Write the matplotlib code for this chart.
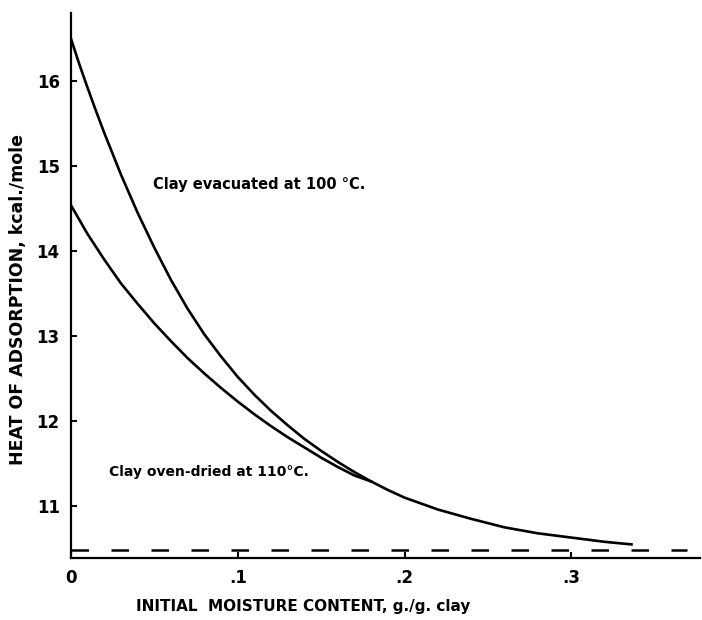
import numpy as np
import matplotlib.pyplot as plt

plt.rcParams['font.family'] = ['DejaVu Sans']
plt.rcParams['font.weight'] = 'bold'

# Daten
x_evac = [0.0, 0.005, 0.01, 0.015, 0.02, 0.03, 0.04, 0.05, 0.06, 0.07, 0.08, 0.09,
          0.10, 0.11, 0.12, 0.13, 0.14, 0.15, 0.16, 0.17, 0.18, 0.19, 0.20, 0.22,
          0.24, 0.26, 0.28, 0.30, 0.32, 0.336]
y_evac = [16.5, 16.2, 15.92, 15.65, 15.39, 14.9, 14.45, 14.04, 13.66, 13.32, 13.02, 12.76,
          12.52, 12.31, 12.12, 11.95, 11.79, 11.65, 11.52, 11.40, 11.29, 11.19, 11.10, 10.96,
          10.85, 10.75, 10.68, 10.63, 10.58, 10.55]

x_oven = [0.0, 0.01, 0.02, 0.03, 0.04, 0.05, 0.06, 0.07, 0.08, 0.09, 0.10, 0.11,
          0.12, 0.13, 0.14, 0.15, 0.16, 0.17, 0.18]
y_oven = [14.54, 14.2, 13.9, 13.62, 13.38, 13.15, 12.94, 12.74, 12.56, 12.39, 12.23, 12.08,
          11.94, 11.81, 11.69, 11.57, 11.46, 11.36, 11.29]

baseline = 10.48
x_ticks = [0, 0.1, 0.2, 0.3]
x_ticklabels = ['0', '.1', '.2', '.3']
y_ticks = [11, 12, 13, 14, 15, 16]

fig = plt.figure(figsize=(7.02, 6.2), dpi=100)
ax = fig.add_axes([0.101, 0.1, 0.896, 0.879])

ax.plot(x_evac, y_evac, color='black', lw=1.9)
ax.plot(x_oven, y_oven, color='black', lw=1.9)
ax.plot([0, 0.369], [baseline, baseline], color='black', lw=1.8, dashes=(7, 9))

ax.set_xlim(0, 0.377)
ax.set_ylim(10.39, 16.8)
ax.set_xticks(x_ticks)
ax.set_xticklabels(x_ticklabels)
ax.set_yticks(y_ticks)
ax.tick_params(direction='in', length=4, width=1.5, labelsize=12, pad=8)
for s in ['top', 'right']:
    ax.spines[s].set_visible(False)
for s in ['left', 'bottom']:
    ax.spines[s].set_linewidth(1.6)

ax.text(0.049, 14.78, 'Clay evacuated at 100 °C.', fontsize=10.5, va='center')
ax.text(0.023, 11.4, 'Clay oven-dried at 110°C.', fontsize=10, va='center')

ax.set_xlabel('INITIAL  MOISTURE CONTENT, g./g. clay', fontsize=11, fontweight='bold')
ax.xaxis.set_label_coords(0.37, -0.075)
ax.set_ylabel('HEAT OF ADSORPTION, kcal./mole', fontsize=12.5, fontweight='bold')
ax.yaxis.set_label_coords(-0.07, 0.475)

fig.savefig('out.png', dpi=100)
